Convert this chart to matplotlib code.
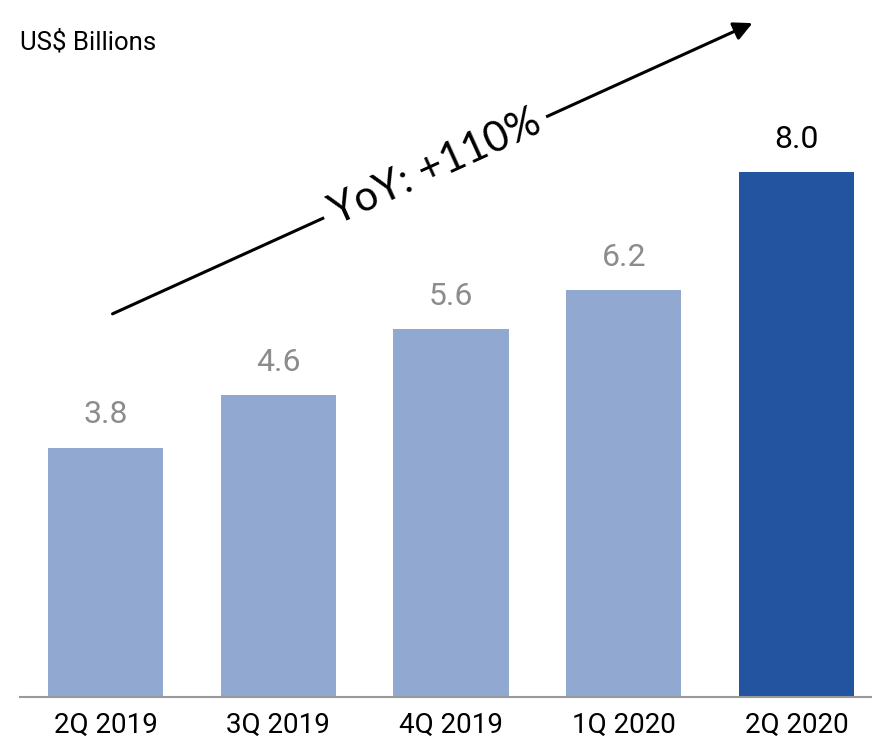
import matplotlib.pyplot as plt

quarters = ['2Q 2019', '3Q 2019', '4Q 2019', '1Q 2020', '2Q 2020']
revenue = [3.8, 4.6, 5.6, 6.2, 8.0]
bar_colors = ['#91a9d0', '#91a9d0', '#91a9d0', '#91a9d0', '#2254a0']

W, H = 872, 745
fig = plt.figure(figsize=(W / 100, H / 100), dpi=100)
ax = fig.add_axes([20 / W, (H - 697) / H, 852 / W, 697 / H])

x = range(len(quarters))
ax.bar(x, revenue, width=0.666, color=bar_colors, zorder=2)
ax.set_xlim(-0.495, 4.437)
ax.set_ylim(0, 10.62)

for xi, v in zip(x, revenue):
    col = 'black' if xi == len(quarters) - 1 else '#8c8c8c'
    ax.text(xi, v + 0.28, f'{v:.1f}', ha='center', va='bottom',
            fontsize=23, color=col, family='Roboto')

for s in ['top', 'right', 'left']:
    ax.spines[s].set_visible(False)
ax.spines['bottom'].set_color('#999999')
ax.spines['bottom'].set_linewidth(1.5)
ax.set_yticks([])
ax.set_xticks(list(x))
ax.set_xticklabels(quarters, fontsize=20, family='Roboto')
ax.tick_params(axis='x', length=0, pad=11)

fig.text(20 / W, 1 - 42 / H, 'US$ Billions', fontsize=18.5, family='Roboto',
         va='center', ha='left')

# growth arrow with the label sitting on top of it
fig.add_artist(plt.matplotlib.patches.FancyArrowPatch(
    (110 / W, 1 - 315 / H), (755 / W, 1 - 22 / H),
    transform=fig.transFigure, arrowstyle='-|>', mutation_scale=28,
    color='black', lw=2.2))
fig.text(435 / W, 1 - 167 / H, 'YoY: +110%', fontsize=30, family='Lato',
         rotation=24.4, rotation_mode='anchor', ha='center', va='center',
         bbox=dict(facecolor='white', edgecolor='none', pad=6))

fig.savefig('out.png', dpi=100)
